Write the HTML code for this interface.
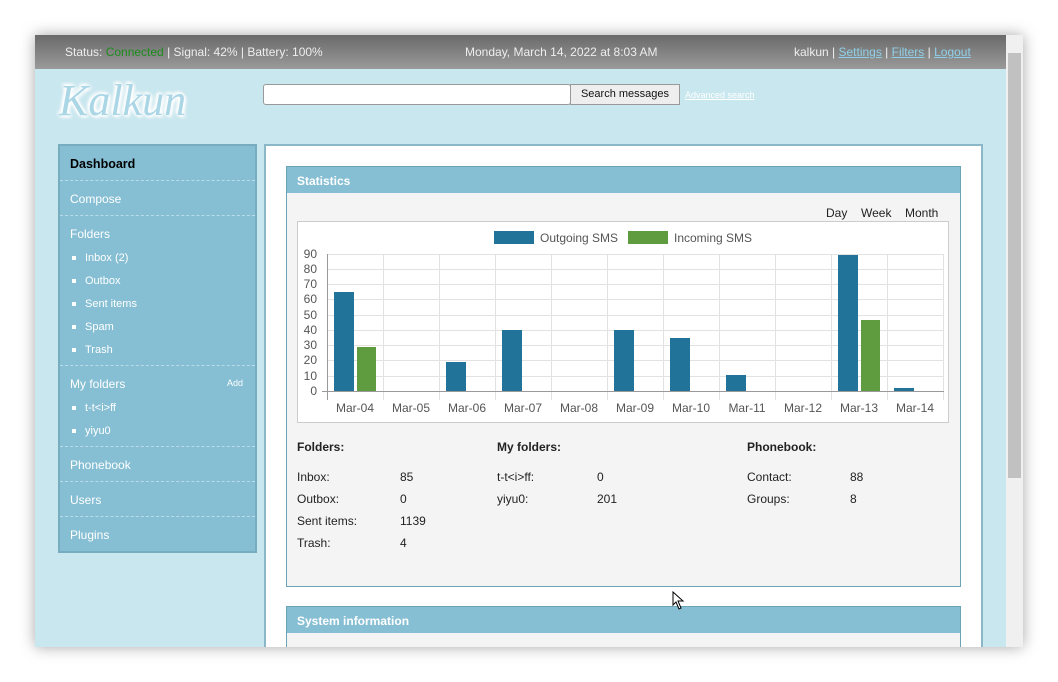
<!DOCTYPE html>
<html><head><meta charset="utf-8"><style>
*{margin:0;padding:0;box-sizing:border-box}
body{width:1058px;height:682px;background:#fff;font-family:"Liberation Sans",sans-serif;font-size:12px;position:relative;overflow:hidden}
.a{position:absolute}
#win{left:35px;top:35px;width:988px;height:612px;background:#c9e7ef;box-shadow:0 0 14px rgba(0,0,0,.35);overflow:hidden}
#top{left:0;top:0;width:971px;height:34px;background:linear-gradient(#6a6a6a,#9a9a9a);color:#eee}
#top a{color:#8fd0e8;text-decoration:underline}
.side{left:23px;top:109px;width:199px;height:409px;background:#86bfd3;border:2px solid #78acbf;color:#fff}
.side .it{position:absolute;left:10px;font-size:12px}
.side .ln{position:absolute;left:0;width:195px;border-top:1px dashed #b8dde9}
.side .sq{position:absolute;left:12px;width:4px;height:4px;background:#fff}
.main{left:229px;top:109px;width:719px;height:520px;background:#fff;border:2px solid #8ab8c8}
.panel{left:20px;top:20px;width:675px;height:421px;background:#f4f4f4;border:1px solid #6da3b6}
.ph{left:0;top:0;width:673px;height:26px;background:#86bfd3;color:#fff;font-weight:bold;padding:7px 10px;font-size:12px}
.t{color:#222;font-size:12px}
</style></head><body>
<div id="win" class="a">
<div id="top" class="a">
<span class="a" style="left:30px;top:10px">Status: <span style="color:#1c8c1c">Connected</span> | Signal: 42% | Battery: 100%</span>
<span class="a" style="left:430px;top:10px">Monday, March 14, 2022 at 8:03 AM</span>
<span class="a" style="left:759px;top:10px">kalkun | <a>Settings</a> | <a>Filters</a> | <a>Logout</a></span>
</div>
<div class="a" style="left:971px;top:0;width:17px;height:612px;background:#f0f0f0"></div>
<div class="a" style="left:973px;top:18px;width:13px;height:425px;background:#c1c1c1"></div>
<div class="a" style="left:24px;top:40px;font-family:'Liberation Serif',serif;font-style:italic;font-size:44px;color:#aad6e6;text-shadow:0 0 3px #fff,0 0 4px #fff,0 0 5px #fff,2px 2px 3px #fff,-2px -2px 3px #fff">Kalkun</div>
<div class="a" style="left:228px;top:49px;width:308px;height:21px;background:#fff;border:1px solid #999;border-radius:3px"></div>
<div class="a" style="left:535px;top:49px;width:110px;height:21px;background:#eee;border:1px solid #999;color:#111;padding:3px 0;text-align:center;font-size:11px;white-space:nowrap">Search messages</div>
<span class="a" style="left:650px;top:55px;font-size:9px;color:#fff;text-decoration:underline">Advanced search</span>

<div class="a side">
<span class="it" style="top:11px;color:#000;font-weight:bold;font-size:12.5px">Dashboard</span>
<div class="ln" style="top:34px"></div>
<span class="it" style="top:46px">Compose</span>
<div class="ln" style="top:69px"></div>
<span class="it" style="top:81px">Folders</span>
<div class="sq" style="top:110px"></div><span class="it" style="left:25px;top:106px;font-size:11px">Inbox (2)</span>
<div class="sq" style="top:133px"></div><span class="it" style="left:25px;top:129px;font-size:11px">Outbox</span>
<div class="sq" style="top:156px"></div><span class="it" style="left:25px;top:152px;font-size:11px">Sent items</span>
<div class="sq" style="top:179px"></div><span class="it" style="left:25px;top:175px;font-size:11px">Spam</span>
<div class="sq" style="top:202px"></div><span class="it" style="left:25px;top:198px;font-size:11px">Trash</span>
<div class="ln" style="top:219px"></div>
<span class="it" style="top:231px">My folders</span><span class="it" style="left:167px;top:232px;font-size:9px">Add</span>
<div class="sq" style="top:260px"></div><span class="it" style="left:25px;top:256px;font-size:11px">t-t&lt;i&gt;ff</span>
<div class="sq" style="top:283px"></div><span class="it" style="left:25px;top:279px;font-size:11px">yiyu0</span>
<div class="ln" style="top:300px"></div>
<span class="it" style="top:312px">Phonebook</span>
<div class="ln" style="top:335px"></div>
<span class="it" style="top:347px">Users</span>
<div class="ln" style="top:370px"></div>
<span class="it" style="top:382px">Plugins</span>
</div>

<div class="a main">
<div class="a panel">
<div class="a ph">Statistics</div>
<span class="a t" style="left:539px;top:39px">Day</span>
<span class="a t" style="left:574px;top:39px">Week</span>
<span class="a t" style="left:618px;top:39px">Month</span>
<span class="a t" style="left:10px;top:273px;font-weight:bold">Folders:</span>
<span class="a t" style="left:210px;top:273px;font-weight:bold">My folders:</span>
<span class="a t" style="left:460px;top:273px;font-weight:bold">Phonebook:</span>
<span class="a t" style="left:10px;top:303px">Inbox:</span><span class="a t" style="left:113px;top:303px">85</span>
<span class="a t" style="left:10px;top:325px">Outbox:</span><span class="a t" style="left:113px;top:325px">0</span>
<span class="a t" style="left:10px;top:347px">Sent items:</span><span class="a t" style="left:113px;top:347px">1139</span>
<span class="a t" style="left:10px;top:369px">Trash:</span><span class="a t" style="left:113px;top:369px">4</span>
<span class="a t" style="left:210px;top:303px">t-t&lt;i&gt;ff:</span><span class="a t" style="left:310px;top:303px">0</span>
<span class="a t" style="left:210px;top:325px">yiyu0:</span><span class="a t" style="left:310px;top:325px">201</span>
<span class="a t" style="left:460px;top:303px">Contact:</span><span class="a t" style="left:563px;top:303px">88</span>
<span class="a t" style="left:460px;top:325px">Groups:</span><span class="a t" style="left:563px;top:325px">8</span>
</div>
<div class="a" style="left:20px;top:460px;width:675px;height:60px;background:#f4f4f4;border:1px solid #6da3b6">
<div class="a ph" style="height:26px">System information</div></div>
</div>
</div>

<svg class="a" style="left:0;top:0" width="1058" height="682" font-family="Liberation Sans,sans-serif" font-size="12">
<rect x="297.5" y="221.5" width="651" height="201" fill="#fff" stroke="#ccc"/>
<rect x="494" y="231" width="40" height="13" fill="#21739a"/>
<text x="540" y="242" fill="#555">Outgoing SMS</text>
<rect x="628" y="231" width="40" height="13" fill="#5f9c3f"/>
<text x="674" y="242" fill="#555">Incoming SMS</text>
<g stroke="#e2e2e2">
<line x1="327" x2="944" y1="254.5" y2="254.5"/><line x1="327" x2="944" y1="269.5" y2="269.5"/>
<line x1="327" x2="944" y1="284.5" y2="284.5"/><line x1="327" x2="944" y1="299.5" y2="299.5"/>
<line x1="327" x2="944" y1="315.5" y2="315.5"/><line x1="327" x2="944" y1="330.5" y2="330.5"/>
<line x1="327" x2="944" y1="345.5" y2="345.5"/><line x1="327" x2="944" y1="360.5" y2="360.5"/>
<line x1="327" x2="944" y1="376.5" y2="376.5"/>
<line x1="383.5" x2="383.5" y1="254" y2="400"/><line x1="439.5" x2="439.5" y1="254" y2="400"/>
<line x1="495.5" x2="495.5" y1="254" y2="400"/><line x1="551.5" x2="551.5" y1="254" y2="400"/>
<line x1="607.5" x2="607.5" y1="254" y2="400"/><line x1="663.5" x2="663.5" y1="254" y2="400"/>
<line x1="719.5" x2="719.5" y1="254" y2="400"/><line x1="775.5" x2="775.5" y1="254" y2="400"/>
<line x1="831.5" x2="831.5" y1="254" y2="400"/><line x1="887.5" x2="887.5" y1="254" y2="400"/>
<line x1="943.5" x2="943.5" y1="254" y2="400"/>
</g>
<g stroke="#999"><line x1="327.5" x2="327.5" y1="254" y2="400"/><line x1="322" x2="944" y1="391.5" y2="391.5"/></g>
<g fill="#555" text-anchor="end">
<text x="317" y="258">90</text><text x="317" y="273">80</text><text x="317" y="288">70</text>
<text x="317" y="303">60</text><text x="317" y="319">50</text><text x="317" y="334">40</text>
<text x="317" y="349">30</text><text x="317" y="364">20</text><text x="317" y="380">10</text><text x="317" y="395">0</text>
</g>
<g fill="#555" text-anchor="middle">
<text x="355" y="412">Mar-04</text><text x="411" y="412">Mar-05</text><text x="467" y="412">Mar-06</text>
<text x="523" y="412">Mar-07</text><text x="579" y="412">Mar-08</text><text x="635" y="412">Mar-09</text>
<text x="691" y="412">Mar-10</text><text x="747" y="412">Mar-11</text><text x="803" y="412">Mar-12</text>
<text x="859" y="412">Mar-13</text><text x="915" y="412">Mar-14</text>
</g>
<g fill="#21739a">
<rect x="334" y="292" width="20" height="99"/><rect x="446" y="362" width="20" height="29"/>
<rect x="502" y="330" width="20" height="61"/><rect x="614" y="330" width="20" height="61"/>
<rect x="670" y="338" width="20" height="53"/><rect x="726" y="375" width="20" height="16"/>
<rect x="838" y="255" width="20" height="136"/><rect x="894" y="388" width="20" height="3"/>
</g>
<g fill="#5f9c3f">
<rect x="357" y="347" width="19" height="44"/><rect x="861" y="320" width="19" height="71"/>
</g>
<path d="M673 592 L673 605 L676 602 L679 609 L681 608 L678 601 L683 601 Z" fill="#fff" stroke="#000" stroke-width="1"/>
</svg>
</body></html>
